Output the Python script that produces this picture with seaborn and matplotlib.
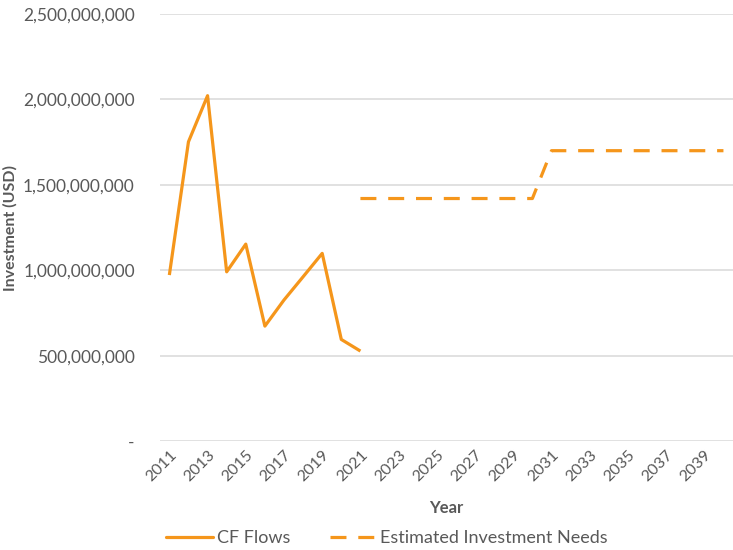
import matplotlib
matplotlib.use("Agg")
import matplotlib.pyplot as plt
import matplotlib.ticker as mticker
from matplotlib.lines import Line2D
import seaborn as sns
import pandas as pd

# Historical climate finance flows
cf_years = list(range(2011, 2022))
cf_values = [972e6, 1752e6, 2022e6, 991e6, 1153e6, 673e6, 826e6, 962e6, 1099e6, 595e6, 527e6]

# Estimated investment needs
need_years = list(range(2021, 2041))
need_values = [1420e6] * 10 + [1700e6] * 10

tick_years = list(range(2011, 2041, 2))

ORANGE = "#F5961B"
GREY = "#595959"

sns.set_theme(style="white")
plt.rcParams["font.family"] = ["Lato", "DejaVu Sans"]

cf = pd.DataFrame({"Year": cf_years, "Investment": cf_values, "Series": "CF Flows"})
needs = pd.DataFrame({"Year": need_years, "Investment": need_values,
                      "Series": "Estimated Investment Needs"})
df = pd.concat([cf, needs], ignore_index=True)

fig = plt.figure(figsize=(7.33, 5.5), dpi=100)
ax = fig.add_axes([0.218, 0.198, 0.782, 0.7765])

sns.lineplot(data=df, x="Year", y="Investment", hue="Series", style="Series",
             palette=[ORANGE, ORANGE], dashes=[(None, None), (5, 3.7)],
             linewidth=2.3, ax=ax, legend=False)
for ln in ax.lines:
    ln.set_solid_capstyle("butt")
    ln.set_dash_capstyle("butt")

ax.set_xlim(2010.5, 2040.5)
ax.set_ylim(0, 2.5e9)
ax.set_yticks([0, 5e8, 1e9, 1.5e9, 2e9, 2.5e9])
ax.yaxis.set_major_formatter(mticker.FuncFormatter(
    lambda v, p: "-" if v == 0 else f"{v:,.0f}"))
ax.set_xticks(tick_years)
ax.set_xticklabels([str(y) for y in tick_years], rotation=45, ha="right",
                   rotation_mode="anchor")
ax.yaxis.grid(True, color="#D9D9D9", linewidth=1.1)
ax.xaxis.grid(False)
for s in ax.spines.values():
    s.set_visible(False)
ax.tick_params(axis="y", labelsize=12.5, colors=GREY, length=0, pad=18)
ax.tick_params(axis="x", labelsize=11.5, colors=GREY, length=0, pad=5)

ax.set_xlabel("Year", fontsize=12, fontweight="bold", color=GREY, labelpad=11)
ax.set_ylabel("Investment (USD)", fontsize=11.5, fontweight="bold", color=GREY, labelpad=4)

handles = [Line2D([], [], color=ORANGE, lw=2.3),
           Line2D([], [], color=ORANGE, lw=2.3, dashes=(5, 3.7))]
fig.legend(handles, ["CF Flows", "Estimated Investment Needs"], loc="lower center",
           bbox_to_anchor=(0.528, -0.022), ncol=2, frameon=False, fontsize=13,
           labelcolor=GREY, handlelength=2.6, handletextpad=0.2, columnspacing=2.2)

fig.savefig("out.png", dpi=100)
